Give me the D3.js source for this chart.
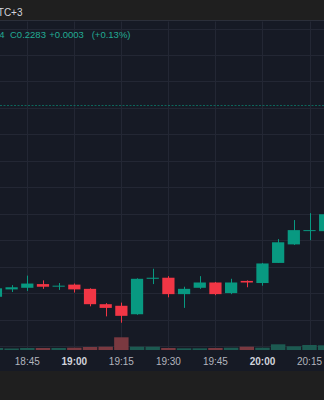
<!DOCTYPE html>
<html>
<head>
<meta charset="utf-8">
<script src="https://cdn.jsdelivr.net/npm/d3@7"></script>
<style>
  html, body { margin: 0; padding: 0; background: #1f1f1f; }
  svg { display: block; font-family: "Liberation Sans", Arial, sans-serif; }
</style>
</head>
<body>
<svg id="chart" width="324" height="400"></svg>
<script>
// 5 minute candles, local time
var times  = ["18:35","18:40","18:45","18:50","18:55","19:00","19:05","19:10","19:15","19:20","19:25",
              "19:30","19:35","19:40","19:45","19:50","19:55","20:00","20:05","20:10","20:15","20:20"];
var open   = [0.22693,0.22707,0.22710,0.22717,0.22713,0.22716,0.22708,0.22679,0.22676,0.22660,0.22727,
              0.22729,0.22698,0.22710,0.22720,0.22700,0.22723,0.22719,0.22757,0.22792,0.22818,0.22817];
var high   = [0.22712,0.22715,0.22733,0.22724,0.22719,0.22718,0.22709,0.22681,0.22682,0.22728,0.22746,
              0.22732,0.22712,0.22732,0.22721,0.22727,0.22724,0.22757,0.22802,0.22838,0.22851,0.22851];
var low    = [0.22691,0.22702,0.22704,0.22708,0.22706,0.22701,0.22675,0.22656,0.22644,0.22659,0.22717,
              0.22692,0.22672,0.22708,0.22696,0.22698,0.22711,0.22714,0.22757,0.22791,0.22800,0.22815];
var close  = [0.22709,0.22711,0.22718,0.22712,0.22714,0.22707,0.22679,0.22672,0.22657,0.22727,0.22729,
              0.22698,0.22708,0.22720,0.22698,0.22720,0.22720,0.22756,0.22796,0.22819,0.22819,0.22849];
var volume = [20000,15000,20000,20000,20000,23000,30000,33000,127000,33000,33000,
              20000,17000,17000,20000,23000,33000,23000,57000,37000,50000,47000];
var lastPrice = 0.23056;
var legendLow = "L0.2274";
var legend = ["C0.2283", "+0.0003", "(+0.13%)"];
var tz = "UTC+3";

var svg = d3.select("#chart"),
    width = +svg.attr("width"),
    height = +svg.attr("height"),
    paneTop = 20.5, paneBottom = 350, axisBottom = 371;

var up = "#089981", down = "#f23645";

function t(s) {
  var p = s.split(":");
  return new Date(2024, 0, 15, +p[0], +p[1]);
}

var x = d3.scaleTime()
    .domain([t("18:45"), t("20:15")])
    .range([27.3, 309.5]);

var y = d3.scaleLinear()
    .domain([0.2260, 0.2320])
    .range([346, 28.5]);

var v = d3.scaleLinear()
    .domain([0, 100000])
    .range([paneBottom, paneBottom - 10]);

var step = x(t("18:50")) - x(t("18:45"));

var data = times.map(function(s, i) {
  return { t: t(s), o: open[i], h: high[i], l: low[i], c: close[i], v: volume[i] };
});

// backgrounds
svg.append("rect").attr("width", width).attr("height", height).attr("fill", "#1f1f1f");
svg.append("rect").attr("x", 0).attr("y", paneTop).attr("width", width)
    .attr("height", axisBottom - paneTop).attr("fill", "#161a25");
svg.append("line").attr("x1", 0).attr("x2", width).attr("y1", paneTop).attr("y2", paneTop)
    .attr("stroke", "#2b2f3a");

var g = svg.append("g");

// grid
var xTicks = d3.timeMinute.every(15).range(x.invert(-20), x.invert(width + 20));
g.selectAll(".vgrid").data(xTicks).enter().append("line")
    .attr("x1", function(d) { return Math.round(x(d)) + 0.5; })
    .attr("x2", function(d) { return Math.round(x(d)) + 0.5; })
    .attr("y1", paneTop + 1).attr("y2", paneBottom)
    .attr("stroke", "#232734");

g.selectAll(".hgrid").data(y.ticks(12).filter(function(d) { return y(d) > paneTop + 2 && y(d) < paneBottom; }))
  .enter().append("line")
    .attr("x1", 0).attr("x2", width)
    .attr("y1", function(d) { return Math.round(y(d)) + 0.5; })
    .attr("y2", function(d) { return Math.round(y(d)) + 0.5; })
    .attr("stroke", "#232734");

// price line
g.append("line")
    .attr("x1", 0).attr("x2", width)
    .attr("y1", Math.round(y(lastPrice)) + 0.5).attr("y2", Math.round(y(lastPrice)) + 0.5)
    .attr("stroke", up).attr("stroke-opacity", 0.6)
    .attr("stroke-dasharray", "2,1.5");

// volume
g.selectAll(".vol").data(data).enter().append("rect")
    .attr("x", function(d) { return x(d.t) - step * 0.46; })
    .attr("width", step * 0.92)
    .attr("y", function(d) { return v(d.v); })
    .attr("height", function(d) { return paneBottom - v(d.v); })
    .attr("fill", function(d) { return d.c >= d.o ? "#1c5a51" : "#7a3940"; });

// candles
var candle = g.selectAll(".candle").data(data).enter().append("g");

candle.append("line")
    .attr("x1", function(d) { return Math.round(x(d.t)) + 0.5; })
    .attr("x2", function(d) { return Math.round(x(d.t)) + 0.5; })
    .attr("y1", function(d) { return y(d.h); })
    .attr("y2", function(d) { return y(d.l); })
    .attr("stroke", function(d) { return d.c >= d.o ? up : down; });

candle.append("rect")
    .attr("x", function(d) { return x(d.t) - step * 0.39; })
    .attr("width", step * 0.78)
    .attr("y", function(d) { return y(Math.max(d.o, d.c)); })
    .attr("height", function(d) { return Math.max(1, Math.abs(y(d.o) - y(d.c))); })
    .attr("fill", function(d) { return d.c >= d.o ? up : down; });

// time axis labels (only those that fit)
g.selectAll(".tlabel").data(xTicks.filter(function(d) { return x(d) > 12 && x(d) < width - 12; }))
  .enter().append("text")
    .attr("x", function(d) { return x(d); })
    .attr("y", 364.5)
    .attr("text-anchor", "middle")
    .attr("font-size", "10px")
    .attr("font-weight", function(d) { return d.getMinutes() === 0 ? "bold" : "normal"; })
    .attr("fill", function(d) { return d.getMinutes() === 0 ? "#d1d4dc" : "#b2b5be"; })
    .text(d3.timeFormat("%H:%M"));

// top bar
svg.append("text").attr("x", 22.5).attr("y", 16).attr("text-anchor", "end")
    .attr("font-size", "10px").attr("fill", "#d1d4dc").text(tz);

// legend
svg.append("text").attr("x", 4.5).attr("y", 37.5).attr("text-anchor", "end")
    .attr("font-size", "9.5px").attr("fill", "#22ab94").text(legendLow);
svg.append("text").attr("y", 37.5).attr("font-size", "9.5px").attr("fill", "#22ab94")
  .selectAll("tspan").data(legend).enter().append("tspan")
    .attr("x", function(d, i) { return [10, 49.3, 91.7][i]; })
    .text(function(d) { return d; });
</script>
</body>
</html>
